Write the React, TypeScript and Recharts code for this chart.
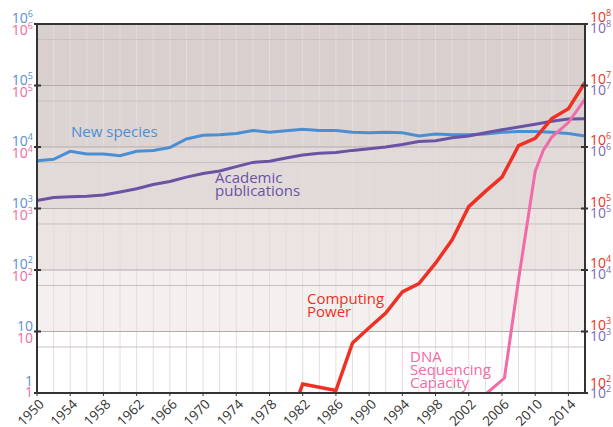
import React from 'react';
import { LineChart, Line, XAxis, YAxis, ReferenceArea, ReferenceLine } from 'recharts';

const speciesYears = [1950,1952,1954,1956,1958,1960,1962,1964,1966,1968,1970,1972,1974,1976,1978,1980,1982,1984,1986,1988,1990,1992,1994,1996,1998,2000,2002,2004,2006,2008,2010,2012,2014,2016];
const newSpecies = [6000,6300,8500,7700,7700,7200,8500,8800,9800,13500,15500,15800,16600,18600,17400,18400,19500,18600,18600,17400,17000,17400,17000,15100,16200,15800,15800,16200,17400,17800,17800,17400,16600,15100];
const publications = [1350,1510,1550,1580,1660,1860,2090,2450,2750,3240,3700,4070,4790,5620,5890,6610,7410,7940,8130,8810,9330,10000,10960,12300,12600,14100,15100,17000,19100,21100,23400,26300,28500,28800];

const computingYears = [1981.6,1982,1986,1988,1990,1992,1994,1996,1998,2000,2002,2004,2006,2008,2010,2012,2014,2016];
const computing = [100,140,110,650,1150,2000,4400,6000,12900,31000,107000,190000,324000,1050000,1380000,2900000,4200000,11200000];

const dnaYears = [2004.2,2006.3,2008,2010,2011,2012,2014,2016];
const dna = [100,175,7000,400000,900000,1450000,2500000,6000000];

const xTicks = [1950,1954,1958,1962,1966,1970,1974,1978,1982,1986,1990,1994,1998,2002,2006,2010,2014];
const gridYears = [1952,1954,1956,1958,1960,1962,1964,1966,1968,1970,1972,1974,1976,1978,1980,1982,1984,1986,1988,1990,1992,1994,1996,1998,2000,2002,2004,2006,2008,2010,2012,2014,2016];
const leftTicks = [1,10,100,1000,10000,100000,1000000];
const rightTicks = [100,1000,10000,100000,1000000,10000000,100000000];
const minorLines = [5.6,56,560,5600,56000,560000];
const bands = [
  { y1: 1, y2: 10, fill: '#ffffff' },
  { y1: 10, y2: 100, fill: '#f5f0f0' },
  { y1: 100, y2: 1000, fill: '#ebe4e3' },
  { y1: 1000, y2: 10000, fill: '#e2dad9' },
  { y1: 10000, y2: 100000, fill: '#dcd4d3' },
  { y1: 100000, y2: 1000000, fill: '#d8cfce' },
];

const zip = (xs: number[], vs: number[]) => xs.map((year, i) => ({ year, v: vs[i] }));
const speciesData = zip(speciesYears, newSpecies);
const pubsData = zip(speciesYears, publications);
const compData = zip(computingYears, computing);
const dnaData = zip(dnaYears, dna);

const FONT = '"Open Sans", sans-serif';
const BLUE = '#4b8fd3';
const PURPLE = '#6a52a5';
const RED = '#ee3124';
const PINK = '#f26aa6';

const exponent = (value: number) => Math.round(Math.log10(value));

const LeftTick = (props: any) => {
  const { x, y, payload } = props;
  const e = exponent(payload.value);
  const isOne = e === 0;
  const b = isOne ? -7 : -1;
  const p = isOne ? 4 : 11;
  const content = (col: string, dy: number) => (
    <text x={x - 4} y={y + dy} textAnchor="end" fill={col} fontSize={14} fontFamily={FONT}>
      {e === 0 ? '1' : e === 1 ? '10' : (<><tspan>10</tspan><tspan fontSize={9} dy={-6}>{e}</tspan></>)}
    </text>
  );
  return (
    <g>
      <line x1={x - 3} x2={x + 4} y1={y} y2={y} stroke="#333" strokeWidth={2} />
      {content('#5b8fd0', b)}
      {content('#f06ba0', p)}
    </g>
  );
};

const RightTick = (props: any) => {
  const { x, y, payload } = props;
  const e = exponent(payload.value);
  const isBottom = e === 2;
  const r = isBottom ? -5 : -2;
  const p = isBottom ? 5 : 9;
  const content = (col: string, dy: number) => (
    <text x={x + 5} y={y + dy} textAnchor="start" fill={col} fontSize={14} fontFamily={FONT}>
      <tspan>10</tspan><tspan fontSize={9} dy={-6}>{e}</tspan>
    </text>
  );
  return (
    <g>
      <line x1={x - 4} x2={x + 3} y1={y} y2={y} stroke="#333" strokeWidth={2} />
      {content(RED, r)}
      {content('#7e6bb0', p)}
    </g>
  );
};

const XTick = (props: any) => {
  const { x, y, payload } = props;
  return (
    <g transform={`translate(${x + 8},${y + 7})`}>
      <text x={0} y={0} textAnchor="end" transform="rotate(-45)" fill="#333" fontSize={13.5} fontFamily={FONT}>
        {payload.value}
      </text>
    </g>
  );
};

export default function App() {
  return (
    <div style={{ position: 'absolute', left: 0, top: 0, width: 613, height: 427, background: '#fff' }}>
      <LineChart width={613} height={427} margin={{ top: 24, right: 0, bottom: 0, left: 0 }}>
        <XAxis
          dataKey="year"
          type="number"
          domain={[1950, 2016]}
          ticks={xTicks}
          tick={<XTick />}
          tickLine={{ stroke: '#333' }}
          tickSize={3}
          axisLine={{ stroke: '#333', strokeWidth: 2 }}
          height={34}
          interval={0}
          allowDataOverflow
        />
        <YAxis
          yAxisId="left"
          scale="log"
          domain={[1, 1000000]}
          ticks={leftTicks}
          tick={<LeftTick />}
          tickLine={false}
          tickSize={0}
          tickMargin={0}
          axisLine={{ stroke: '#333', strokeWidth: 2 }}
          width={37}
          interval={0}
          allowDataOverflow
          type="number"
        />
        <YAxis
          yAxisId="right"
          orientation="right"
          scale="log"
          domain={[100, 100000000]}
          ticks={rightTicks}
          tick={<RightTick />}
          tickLine={false}
          tickSize={0}
          tickMargin={0}
          axisLine={{ stroke: '#333', strokeWidth: 2 }}
          width={28}
          interval={0}
          allowDataOverflow
          type="number"
        />
        {bands.map((b, i) => (
          <ReferenceArea key={'b' + i} yAxisId="left" y1={b.y1} y2={b.y2} fill={b.fill} fillOpacity={1} stroke="none" />
        ))}
        {gridYears.map((yr) => (
          <ReferenceLine key={'v' + yr} yAxisId="left" x={yr} stroke="#e4dddc" strokeWidth={1} />
        ))}
        {minorLines.map((v) => (
          <ReferenceLine key={'m' + v} yAxisId="left" y={v} stroke="#c9c1c0" strokeWidth={1} />
        ))}
        {leftTicks.slice(1, 6).map((v) => (
          <ReferenceLine key={'d' + v} yAxisId="left" y={v} stroke="#b3abaa" strokeWidth={1} />
        ))}
        <ReferenceLine yAxisId="left" y={1000000} stroke="#333" strokeWidth={2} />
        <Line yAxisId="left" data={speciesData} dataKey="v" stroke={BLUE} strokeWidth={3} dot={false} isAnimationActive={false} />
        <Line yAxisId="left" data={pubsData} dataKey="v" stroke={PURPLE} strokeWidth={3} dot={false} isAnimationActive={false} />
        <Line yAxisId="right" data={dnaData} dataKey="v" stroke={PINK} strokeWidth={3} dot={false} isAnimationActive={false} />
        <Line yAxisId="right" data={compData} dataKey="v" stroke={RED} strokeWidth={3.5} dot={false} isAnimationActive={false} />
      </LineChart>
      <svg width={613} height={427} style={{ position: 'absolute', left: 0, top: 0, pointerEvents: 'none' }}>
        <g fontFamily={FONT} fontSize={15}>
          <text x={71} y={137} fill={BLUE}>New species</text>
          <text x={215} y={183} fill={PURPLE}>Academic</text>
          <text x={215} y={196} fill={PURPLE}>publications</text>
          <text x={307} y={304} fill={RED}>Computing</text>
          <text x={307} y={317} fill={RED}>Power</text>
          <text x={410} y={362} fill={PINK}>DNA</text>
          <text x={410} y={375} fill={PINK}>Sequencing</text>
          <text x={410} y={388} fill={PINK}>Capacity</text>
        </g>
      </svg>
    </div>
  );
}
